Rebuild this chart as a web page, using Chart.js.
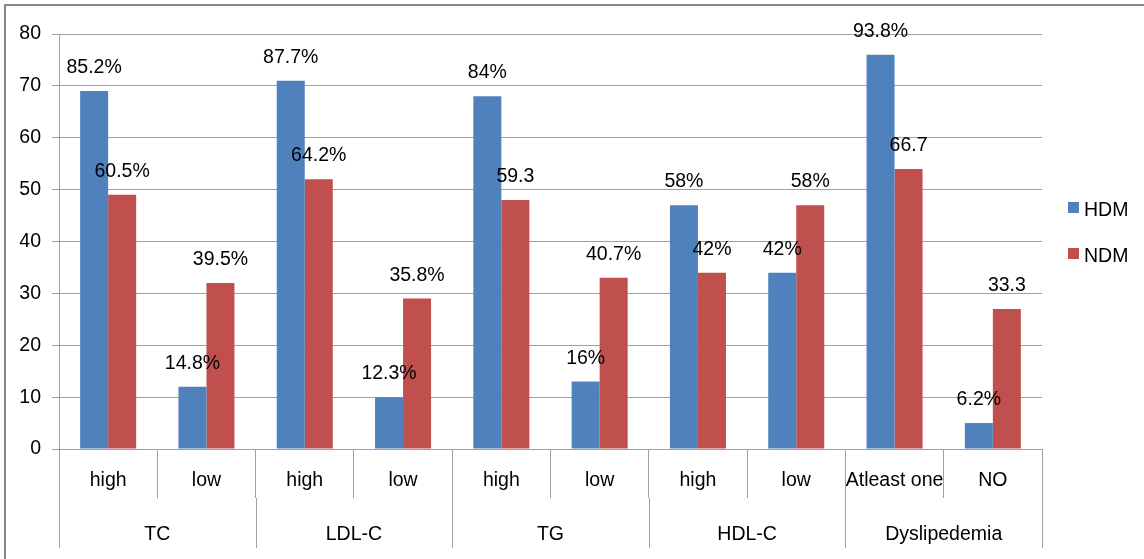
<!DOCTYPE html>
<html>
<head>
<meta charset="utf-8">
<script src="https://cdn.jsdelivr.net/npm/chart.js@4.4.1/dist/chart.umd.min.js"></script>
<style>
  html, body { margin: 0; padding: 0; background: #fff; }
  #wrap { width: 1144px; height: 559px; position: relative; }
</style>
</head>
<body>
<div id="wrap"><canvas id="c" width="1144" height="559"></canvas></div>
<script>
// Lipid profile: number of patients per level, HDM vs NDM
const groups = ['TC', 'LDL-C', 'TG', 'HDL-C', 'Dyslipedemia'];
const levels = ['high', 'low', 'high', 'low', 'high', 'low', 'high', 'low', 'Atleast one', 'NO'];
const hdmCounts = [69, 12, 71, 10, 68, 13, 47, 34, 76, 5];
const ndmCounts = [49, 32, 52, 29, 48, 33, 34, 47, 54, 27];
const hdmLabels = ['85.2%', '14.8%', '87.7%', '12.3%', '84%', '16%', '58%', '42%', '93.8%', '6.2%'];
const ndmLabels = ['60.5%', '39.5%', '64.2%', '35.8%', '59.3', '40.7%', '42%', '58%', '66.7', '33.3'];
const yMin = 0, yMax = 80, yStep = 10;

const FONT = '"Liberation Sans", Arial, sans-serif';
const FSIZE = 19.5;
const LINE = '#a0a0a0';
const BLUE = '#4F81BD';
const RED = '#C0504D';

// white background and outer frame
const framePlugin = {
  id: 'frame',
  beforeDraw(chart) {
    const ctx = chart.ctx;
    ctx.save();
    ctx.fillStyle = '#fff';
    ctx.fillRect(0, 0, chart.width, chart.height);
    ctx.strokeStyle = '#868686';
    ctx.lineWidth = 2;
    ctx.strokeRect(5, 5, chart.width + 20, chart.height + 20);
    ctx.restore();
  }
};

// second row of the category axis: group names and their dividers
const groupAxisPlugin = {
  id: 'groupAxis',
  afterDraw(chart) {
    const xs = chart.scales.x;
    const ctx = chart.ctx;
    const n = levels.length;
    const half = (xs.getPixelForValue(1) - xs.getPixelForValue(0)) / 2;
    const top = chart.chartArea.bottom + 49;
    const bottom = chart.chartArea.bottom + 99;
    ctx.save();
    ctx.strokeStyle = LINE;
    ctx.lineWidth = 1;
    for (let i = 0; i <= n; i += 2) {
      const x = Math.round(i < n ? xs.getPixelForValue(i) - half : xs.getPixelForValue(n - 1) + half) + 0.5;
      ctx.beginPath();
      ctx.moveTo(x, top);
      ctx.lineTo(x, bottom);
      ctx.stroke();
    }
    ctx.fillStyle = '#000';
    ctx.font = FSIZE + 'px ' + FONT;
    ctx.textAlign = 'center';
    ctx.textBaseline = 'alphabetic';
    groups.forEach((g, k) => {
      const x = (xs.getPixelForValue(2 * k) + xs.getPixelForValue(2 * k + 1)) / 2;
      ctx.fillText(g, x, chart.chartArea.bottom + 91);
    });
    ctx.restore();
  }
};

// percentage labels above each bar
const barLabelPlugin = {
  id: 'barLabels',
  afterDatasetsDraw(chart) {
    const ctx = chart.ctx;
    const sets = [hdmLabels, ndmLabels];
    ctx.save();
    ctx.fillStyle = '#000';
    ctx.font = FSIZE + 'px ' + FONT;
    ctx.textAlign = 'center';
    ctx.textBaseline = 'alphabetic';
    chart.data.datasets.forEach((ds, d) => {
      const meta = chart.getDatasetMeta(d);
      meta.data.forEach((bar, i) => {
        ctx.fillText(sets[d][i], bar.x, bar.y - 18);
      });
    });
    ctx.restore();
  }
};

// legend at the right
const legendPlugin = {
  id: 'sideLegend',
  afterDraw(chart) {
    const ctx = chart.ctx;
    ctx.save();
    ctx.font = FSIZE + 'px ' + FONT;
    ctx.textAlign = 'left';
    ctx.textBaseline = 'alphabetic';
    chart.data.datasets.forEach((ds, d) => {
      const y = 202 + d * 46;
      ctx.fillStyle = ds.backgroundColor;
      ctx.fillRect(1068, y, 11, 11);
      ctx.fillStyle = '#000';
      ctx.fillText(ds.label, 1084, y + 14);
    });
    ctx.restore();
  }
};

new Chart(document.getElementById('c'), {
  type: 'bar',
  data: {
    labels: levels,
    datasets: [
      { label: 'HDM', data: hdmCounts, backgroundColor: BLUE },
      { label: 'NDM', data: ndmCounts, backgroundColor: RED }
    ]
  },
  options: {
    responsive: false,
    animation: false,
    devicePixelRatio: 1,
    categoryPercentage: 0.57,
    barPercentage: 1,
    layout: { padding: { top: 34, left: 0, right: 102, bottom: 0 } },
    plugins: { legend: { display: false }, tooltip: { enabled: false } },
    scales: {
      x: {
        afterFit(scale) { scale.height = 110; },
        ticks: {
          font: { family: FONT, size: FSIZE },
          color: '#000',
          padding: -29.5,
          autoSkip: false,
          maxRotation: 0
        },
        grid: {
          offset: true,
          drawOnChartArea: false,
          drawTicks: true,
          tickLength: 49,
          color: LINE,
          lineWidth: 1
        },
        border: { display: true, color: LINE, width: 1 }
      },
      y: {
        min: yMin,
        max: yMax,
        afterFit(scale) { scale.width = 59; },
        ticks: {
          stepSize: yStep,
          font: { family: FONT, size: FSIZE },
          color: '#000',
          padding: 11
        },
        grid: { color: LINE, lineWidth: 1, tickLength: 7 },
        border: { display: true, color: LINE, width: 1 }
      }
    }
  },
  plugins: [framePlugin, groupAxisPlugin, barLabelPlugin, legendPlugin]
});
</script>
</body>
</html>
